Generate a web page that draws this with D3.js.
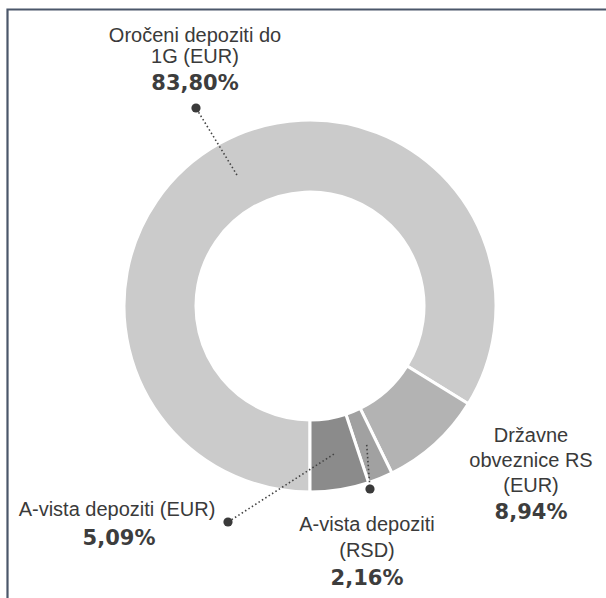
<!DOCTYPE html>
<html>
<head>
<meta charset="utf-8">
<script src="https://cdn.jsdelivr.net/npm/d3@7"></script>
<style>
  html, body { margin: 0; padding: 0; background: #fff; }
  svg { display: block; }
</style>
</head>
<body>
<svg id="chart" width="606" height="598"></svg>
<script>
// ---- data ----
const categories = ["Oročeni depoziti do 1G (EUR)", "Državne obveznice RS (EUR)", "A-vista depoziti (RSD)", "A-vista depoziti (EUR)"];
const values = [83.80, 8.94, 2.16, 5.09];
const labelLines = [["Oročeni depoziti do", "1G (EUR)"], ["Državne", "obveznice RS", "(EUR)"], ["A-vista depoziti", "(RSD)"], ["A-vista depoziti (EUR)"]];
const colors = ["#cbcbcb", "#b3b3b3", "#a1a1a1", "#8b8b8b"];

// ---- layout ----
const W = 606, H = 598;
const cx = 310, cy = 306, R = 186, r = 114;
const labelLayout = [
  { x: 195, lines: [41.5, 63], bold: 90, dot: [196, 108], leader: true },
  { x: 531, lines: [442, 467, 492], bold: 519, dot: null, leader: false },
  { x: 367, lines: [531, 557], bold: 585, dot: [370, 489], leader: true },
  { x: 117, lines: [516], bold: 545, boldX: 119, dot: [228, 522], leader: true }
];

const svg = d3.select("#chart");

// frame (top + left)
svg.append("path")
  .attr("d", `M7.5,${H} V9.5 H${W}`)
  .attr("fill", "none")
  .attr("stroke", "#4b576a")
  .attr("stroke-width", 2.2);

const fmt = v => d3.format(".2f")(v).replace(".", ",") + "%";

const pie = d3.pie().sort(null).value(d => d).startAngle(-Math.PI).endAngle(Math.PI);
const arcs = pie(values);
const arc = d3.arc().innerRadius(r).outerRadius(R);
const mid = d3.arc().innerRadius((r + R) / 2).outerRadius((r + R) / 2);

const g = svg.append("g").attr("transform", `translate(${cx},${cy})`);
g.selectAll("path.slice")
  .data(arcs)
  .join("path")
  .attr("class", "slice")
  .attr("d", arc)
  .attr("fill", (d, i) => colors[i])
  .attr("stroke", "#fff")
  .attr("stroke-width", 3)
  .attr("stroke-linejoin", "miter");

// leader lines + dots
arcs.forEach((d, i) => {
  const L = labelLayout[i];
  if (!L.leader) return;
  const c = mid.centroid(d);
  svg.append("line")
    .attr("x1", cx + c[0]).attr("y1", cy + c[1])
    .attr("x2", L.dot[0]).attr("y2", L.dot[1])
    .attr("stroke", "#444")
    .attr("stroke-width", 1.6)
    .attr("stroke-dasharray", "1.5 2.5");
  svg.append("circle")
    .attr("cx", L.dot[0]).attr("cy", L.dot[1]).attr("r", 4.6)
    .attr("fill", "#3a3a3a");
});

// labels
categories.forEach((cat, i) => {
  const L = labelLayout[i];
  labelLines[i].forEach((t, j) => {
    svg.append("text")
      .attr("x", L.x).attr("y", L.lines[j])
      .attr("text-anchor", "middle")
      .attr("font-family", "'Liberation Sans', Arial, sans-serif")
      .attr("font-size", 20)
      .attr("fill", "#3a3a3a")
      .text(t);
  });
  svg.append("text")
    .attr("x", L.boldX || L.x).attr("y", L.bold)
    .attr("text-anchor", "middle")
    .attr("font-family", "'DejaVu Sans', sans-serif")
    .attr("font-weight", "bold")
    .attr("font-size", 21)
    .attr("fill", "#3d3d3d")
    .text(fmt(values[i]));
});
</script>
</body>
</html>
